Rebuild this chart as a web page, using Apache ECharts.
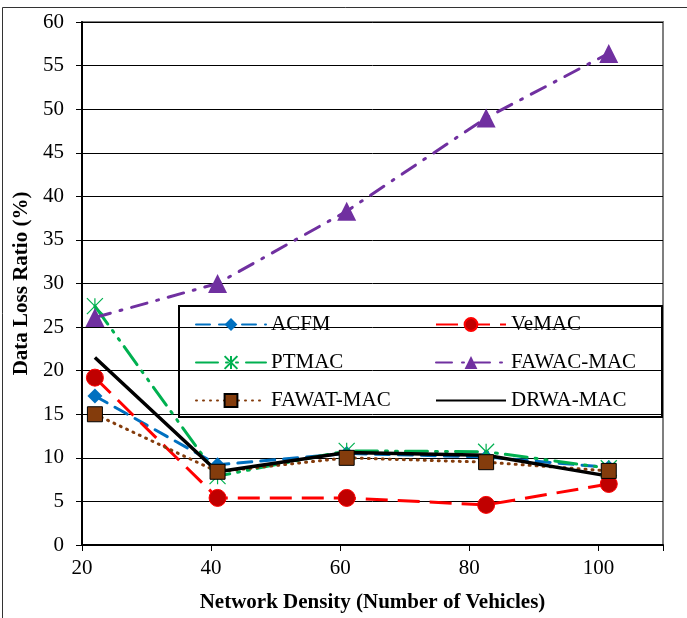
<!DOCTYPE html>
<html><head><meta charset="utf-8">
<script src="https://cdn.jsdelivr.net/npm/echarts@6/dist/echarts.min.js"></script>
<style>html,body{margin:0;padding:0;background:#fff}#c{width:687px;height:618px}</style>
</head><body><div id="c"></div>
<script>
const xValues = [22, 41, 61, 82.6, 101.6];
const acfm = [17.1, 9.2, 10.5, 10.1, 8.9];
const vemac = [19.2, 5.4, 5.4, 4.6, 7.0];
const ptmac = [27.4, 7.9, 10.8, 10.7, 8.8];
const fawac = [26.1, 30.0, 38.3, 49.0, 56.4];
const fawat = [15.0, 8.4, 10.0, 9.5, 8.5];
const drwa = [21.5, 8.4, 10.6, 10.3, 7.9];
const seriesNames = ['ACFM', 'VeMAC', 'PTMAC', 'FAWAC-MAC', 'FAWAT-MAC', 'DRWA-MAC'];
const xTicks = [20, 40, 60, 80, 100];
const yTicks = [0, 5, 10, 15, 20, 25, 30, 35, 40, 45, 50, 55, 60];

const pair = v => xValues.map((x, i) => [x, v[i]]);
const FONT = '"Liberation Serif", "Times New Roman", serif';
const star = 'path://M5,0L5,10M0,0L10,10M10,0L0,10';
const legendText = {fontFamily: FONT, fontSize: 21, color: '#000'};

const chart = echarts.init(document.getElementById('c'), null, {renderer: 'canvas'});
chart.setOption({
  animation: false,
  backgroundColor: '#fff',
  textStyle: {fontFamily: FONT},
  grid: {left: 82, right: 24, top: 22, bottom: 72, show: true, borderColor: '#7f7f7f', borderWidth: 2, backgroundColor: 'transparent'},
  xAxis: {
    type: 'value', min: 20, max: 110, interval: 20,
    name: 'Network Density (Number of Vehicles)', nameLocation: 'middle', nameGap: 47,
    nameTextStyle: {fontFamily: FONT, fontWeight: 'bold', fontSize: 21, color: '#000'},
    axisLine: {show: true, onZero: false, lineStyle: {color: '#000', width: 2}},
    axisTick: {show: true, length: 6, lineStyle: {color: '#000', width: 1}},
    axisLabel: {fontFamily: FONT, fontSize: 21, color: '#000', margin: 13,
      formatter: v => xTicks.includes(v) ? String(v) : ''},
    splitLine: {show: false}
  },
  yAxis: {
    type: 'value', min: 0, max: 60, interval: 5,
    name: 'Data Loss Ratio (%)', nameLocation: 'middle', nameGap: 49,
    nameTextStyle: {fontFamily: FONT, fontWeight: 'bold', fontSize: 21, color: '#000'},
    axisLine: {show: true, lineStyle: {color: '#000', width: 2}},
    axisTick: {show: true, length: 6, lineStyle: {color: '#000', width: 1}},
    axisLabel: {fontFamily: FONT, fontSize: 21, color: '#000', margin: 18,
      formatter: v => yTicks.includes(v) ? String(v) : ''},
    splitLine: {show: true, lineStyle: {color: '#000', width: 1}}
  },
  legend: [
    {left: 190, top: 309, orient: 'vertical', itemWidth: 70, itemHeight: 16, itemGap: 17,
     data: ['ACFM', 'PTMAC', 'FAWAT-MAC'], textStyle: legendText},
    {left: 430, top: 309, orient: 'vertical', itemWidth: 70, itemHeight: 16, itemGap: 17,
     data: ['VeMAC', 'FAWAC-MAC', {name: 'DRWA-MAC', itemStyle: {opacity: 0}}], textStyle: legendText}
  ],
  graphic: [
    {type: 'rect', left: 178, top: 305, shape: {width: 483, height: 111}, style: {fill: 'transparent', stroke: '#000', lineWidth: 2}, z: 100},
    {type: 'rect', left: 2, top: 7, shape: {width: 700, height: 640}, style: {fill: 'transparent', stroke: '#333', lineWidth: 1}, z: 100}
  ],
  series: [
    {name: seriesNames[0], type: 'line', data: pair(acfm), symbol: 'diamond', symbolSize: 15,
     lineStyle: {color: '#0070C0', width: 3, type: [14, 9], cap: 'round'}, itemStyle: {color: '#0070C0'}},
    {name: seriesNames[1], type: 'line', data: pair(vemac), symbol: 'circle', symbolSize: 17,
     lineStyle: {color: '#FF0000', width: 3, type: [22, 10]}, itemStyle: {color: '#C00000', borderColor: '#FF0000', borderWidth: 1}},
    {name: seriesNames[2], type: 'line', data: pair(ptmac), symbol: star, symbolSize: 16,
     lineStyle: {color: '#00B050', width: 3, type: [22, 8, 2, 8, 2, 8], cap: 'round'},
     itemStyle: {color: '#00B050', borderColor: '#00B050', borderWidth: 1.2}},
    {name: seriesNames[3], type: 'line', data: pair(fawac), symbol: 'triangle', symbolSize: 19,
     lineStyle: {color: '#7030A0', width: 3, type: [16, 10, 2, 10], cap: 'round'}, itemStyle: {color: '#7030A0'}},
    {name: seriesNames[4], type: 'line', data: pair(fawat), symbol: 'rect', symbolSize: 15,
     lineStyle: {color: '#843C0C', width: 3, type: [1, 6], cap: 'round'}, itemStyle: {color: '#843C0C', borderColor: '#000', borderWidth: 1}},
    {name: seriesNames[5], type: 'line', data: pair(drwa), symbol: 'none', showSymbol: false,
     lineStyle: {color: '#000', width: 3.5}, itemStyle: {color: '#000'}}
  ]
});
</script></body></html>
